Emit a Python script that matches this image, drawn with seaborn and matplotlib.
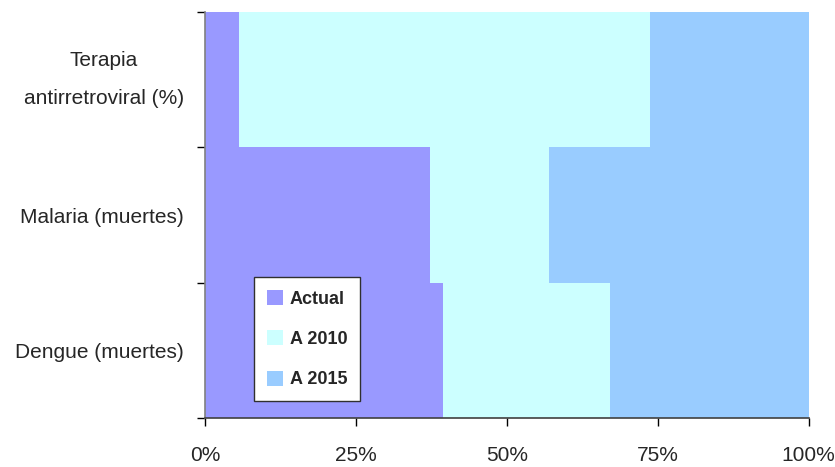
import numpy as np
import pandas as pd
import matplotlib.pyplot as plt
import seaborn as sns
from matplotlib.patches import Patch

sns.set_style("white")
plt.rcParams['font.family'] = ['Liberation Sans', 'DejaVu Sans']

# Data (percent share of each period)
categories = ['Terapia\nantirretroviral (%)', 'Malaria (muertes)', 'Dengue (muertes)']
actual = [5.6, 37.3, 39.4]
a2010 = [68.1, 19.7, 27.7]
a2015 = [26.3, 43.0, 32.9]
series_names = ['Actual', 'A 2010', 'A 2015']
colors = ['#9999FF', '#CCFFFF', '#99CCFF']

df = pd.DataFrame({'cat': categories, 'Actual': actual, 'A 2010': a2010, 'A 2015': a2015})
df['c1'] = df['Actual']
df['c2'] = df['Actual'] + df['A 2010']
df['c3'] = df['c2'] + df['A 2015']

fig = plt.figure(figsize=(8.35, 4.67), dpi=100)
ax = fig.add_axes([0.2455, 0.1039, 0.723, 0.8704])

# Stacked bars: draw the cumulative totals from the back to the front
for col, color in zip(['c3', 'c2', 'c1'], colors[::-1]):
    sns.barplot(data=df, x=col, y='cat', orient='h', color=color, width=1.0,
                linewidth=0, saturation=1, ax=ax)

ax.set_xlim(0, 100)
ax.set_ylim(2.5, -0.5)
ax.set_xlabel('')
ax.set_ylabel('')

# x axis
ax.set_xticks([0, 25, 50, 75, 100])
ax.set_xticklabels(['0%', '25%', '50%', '75%', '100%'], fontsize=15)
ax.tick_params(axis='x', direction='out', length=6, width=1, color='black', pad=14, bottom=True)

# y axis: labels at bar centers, tick marks at bar boundaries
ax.set_yticks([0, 1, 2])
ax.set_yticklabels(categories, fontsize=15, multialignment='center', linespacing=2.25)
ax.get_yticklabels()[0].set_va('center')
ax.tick_params(axis='y', which='major', length=0, pad=15)
ax.set_yticks([-0.5, 0.5, 1.5, 2.5], minor=True)
ax.tick_params(axis='y', which='minor', direction='out', length=5.5, width=1, color='black', left=True)

for s in ['top', 'right']:
    ax.spines[s].set_visible(False)
ax.spines['left'].set_color('#808080')
ax.spines['left'].set_linewidth(1.2)
ax.spines['bottom'].set_color('#404040')
ax.spines['bottom'].set_linewidth(1.2)

handles = [Patch(facecolor=c, edgecolor='none') for c in colors]
leg = ax.legend(handles, series_names, loc='lower left', bbox_to_anchor=(0.081, 0.043),
                borderaxespad=0, frameon=True, fancybox=False, framealpha=1,
                edgecolor='#303030', handlelength=0.9, handleheight=0.9,
                handletextpad=0.4, labelspacing=1.25, borderpad=0.7,
                prop={'weight': 'bold', 'size': 13})
leg.get_frame().set_linewidth(1.0)

fig.savefig('out.png', dpi=100)
